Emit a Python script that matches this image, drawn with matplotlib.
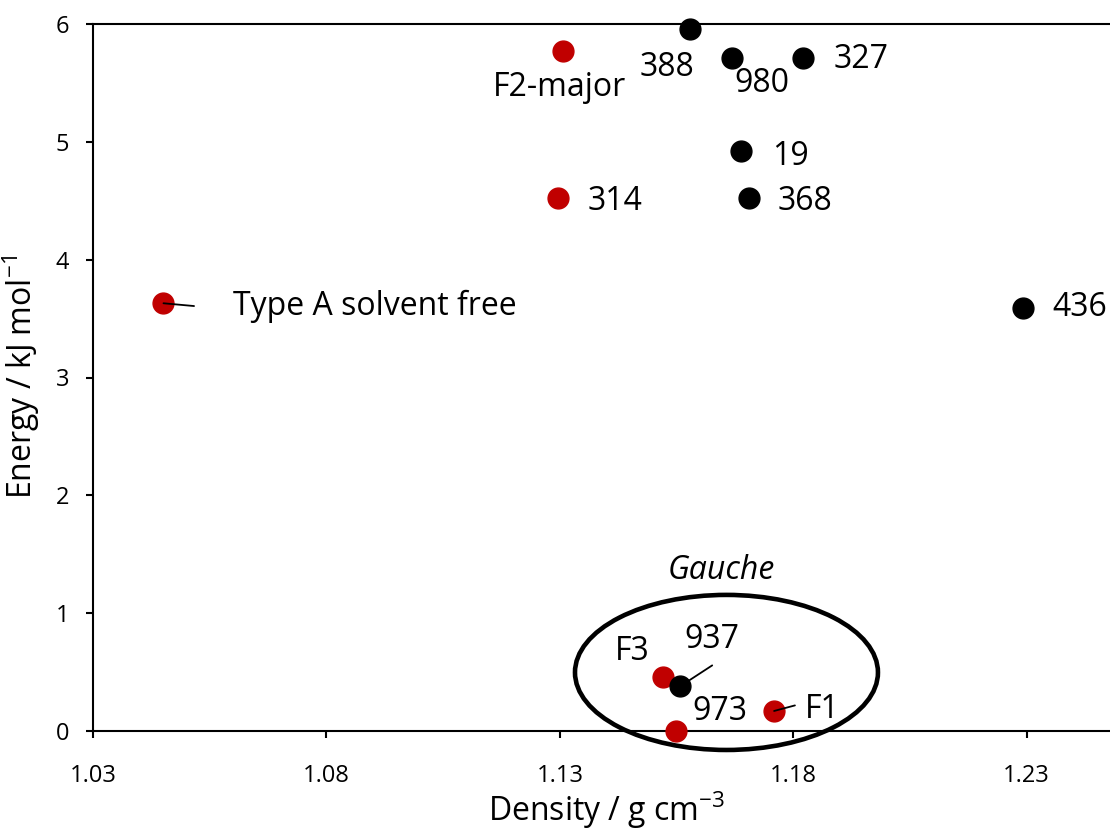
import matplotlib
matplotlib.use("Agg")
import matplotlib.pyplot as plt
from matplotlib.patches import Ellipse

plt.rcParams['font.family'] = ['Open Sans', 'DejaVu Sans']

# red = experimental forms, black = predicted structures
red_density = [1.1306, 1.1296, 1.0451, 1.1520, 1.1548, 1.1759]
red_energy = [5.77, 4.52, 3.63, 0.46, 0.0, 0.17]
red_labels = ['F2-major', '314', 'Type A solvent free', 'F3', '973', 'F1']

black_density = [1.1578, 1.1668, 1.1822, 1.1689, 1.1705, 1.2292, 1.1558]
black_energy = [5.96, 5.71, 5.71, 4.92, 4.52, 3.59, 0.38]
black_labels = ['388', '980', '327', '19', '368', '436', '937']

x_ticks = [1.03, 1.08, 1.13, 1.18, 1.23]
y_ticks = [0, 1, 2, 3, 4, 5, 6]

# label offsets in points (dx, dy, ha)
offsets = {
    'F2-major': (-2, -26, 'center'),
    '314': (21, -2, 'left'),
    'Type A solvent free': (50, -2, 'left'),
    'F3': (-22, 18, 'center'),
    '973': (32, 14, 'center'),
    'F1': (22, 1, 'left'),
    '388': (-16, -28, 'center'),
    '980': (22, -18, 'center'),
    '327': (22, -1, 'left'),
    '19': (22, -4, 'left'),
    '368': (21, -2, 'left'),
    '436': (21, 0, 'left'),
    '937': (23, 34, 'center'),
}
leaders = {'Type A solvent free': (22, -2), '937': (23, 15), 'F1': (15, 4)}

fig = plt.figure(figsize=(11.1, 8.31), dpi=100)
ax = fig.add_axes([93 / 1110, 1 - 731 / 831, 1027 / 1110, 707 / 831])

ax.plot(red_density, red_energy, 'o', color='#C00000', ms=15, zorder=5, clip_on=False)
ax.plot(black_density, black_energy, 'o', color='black', ms=15, zorder=5, clip_on=False)

for xs, ys, labs in [(red_density, red_energy, red_labels),
                     (black_density, black_energy, black_labels)]:
    for x, y, lab in zip(xs, ys, labs):
        dx, dy, ha = offsets[lab]
        ax.annotate(lab, (x, y), xytext=(dx, dy), textcoords='offset points',
                    ha=ha, va='center', fontsize=23, zorder=6)
        if lab in leaders:
            ax.annotate('', (x, y), xytext=leaders[lab], textcoords='offset points',
                        arrowprops=dict(arrowstyle='-', lw=1.3, color='black',
                                        shrinkA=0, shrinkB=0), zorder=6)

ell = Ellipse((1.1657, 0.497), 0.0649, 1.316, fill=False, lw=3.3,
              edgecolor='black', clip_on=False, zorder=4)
ax.add_patch(ell)
ax.text(1.1647, 1.366, 'Gauche', style='italic', fontsize=23,
        ha='center', va='center')

ax.set_xlim(1.03, 1.25)
ax.set_ylim(0, 6)
ax.set_xticks(x_ticks)
ax.set_xticklabels(['%.2f' % t for t in x_ticks])
ax.set_yticks(y_ticks)
ax.tick_params(axis='both', direction='out', length=5, width=1.5, labelsize=17)
ax.tick_params(axis='x', pad=19)
ax.tick_params(axis='y', pad=12)
for s in ax.spines.values():
    s.set_linewidth(1.5)

ax.set_xlabel('Density / g cm$^{\\mathregular{-3}}$', fontsize=23, labelpad=1)
ax.set_ylabel('Energy / kJ mol$^{\\mathregular{-1}}$', fontsize=23, labelpad=10)

fig.savefig('out.png', dpi=100)
